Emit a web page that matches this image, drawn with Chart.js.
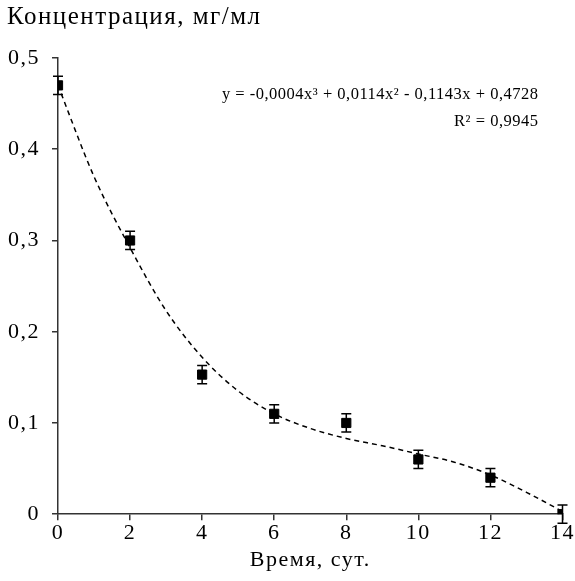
<!DOCTYPE html>
<html>
<head>
<meta charset="utf-8">
<script src="https://cdn.jsdelivr.net/npm/chart.js@4.4.1/dist/chart.umd.min.js"></script>
<style>
  body { margin: 0; background: #fff; }
</style>
</head>
<body>
<canvas id="chart" width="575" height="581"></canvas>
<script>
// измеренные точки
const days = [0, 2, 4, 6, 8, 10, 12, 14];
const concentration = [0.47, 0.30, 0.153, 0.11, 0.10, 0.06, 0.04, 0.0];
const errors = [0.01, 0.01, 0.01, 0.01, 0.01, 0.01, 0.01, 0.01];

// линия тренда
const trendDays = [0, 1, 2, 3, 4, 5, 6, 7, 8, 9, 10, 11, 12, 13, 14];
const trendValues = [0.47, 0.37, 0.292, 0.223, 0.172, 0.135, 0.11, 0.094, 0.083, 0.075, 0.066, 0.057, 0.043, 0.024, 0.003];

const xTicks = [0, 2, 4, 6, 8, 10, 12, 14];
const yTicks = [0, 0.1, 0.2, 0.3, 0.4, 0.5];
const equation = 'y = -0,0004x³ + 0,0114x² - 0,1143x + 0,4728';
const rSquared = 'R² = 0,9945';

const serif = "'Liberation Serif', 'Times New Roman', serif";
const axisColor = '#333';

const fmt = v => v === 0 ? '0' : v.toFixed(1).replace('.', ',');

// шрифт на картинке шире, чем Liberation Serif - добавим разрядку
const spacing = {
  id: 'spacing',
  afterInit(chart) { chart.ctx.letterSpacing = '1.5px'; },
  beforeUpdate(chart) { chart.ctx.letterSpacing = '1.5px'; }
};

// усы погрешностей
const errorBars = {
  id: 'errorBars',
  afterDatasetsDraw(chart) {
    const x = chart.scales.x, y = chart.scales.y, c = chart.ctx;
    c.save();
    c.strokeStyle = '#000';
    c.lineWidth = 1.5;
    days.forEach((d, i) => {
      const px = x.getPixelForValue(d);
      const top = y.getPixelForValue(concentration[i] + errors[i]);
      const bot = y.getPixelForValue(concentration[i] - errors[i]);
      c.beginPath();
      c.moveTo(px, top); c.lineTo(px, bot);
      c.moveTo(px - 5, top); c.lineTo(px + 5, top);
      c.moveTo(px - 5, bot); c.lineTo(px + 5, bot);
      c.stroke();
    });
    c.restore();
  }
};

// уравнение тренда
const trendLabel = {
  id: 'trendLabel',
  afterDraw(chart) {
    const c = chart.ctx, a = chart.chartArea;
    c.save();
    c.letterSpacing = '0.5px';
    c.fillStyle = '#000';
    c.font = '16.5px ' + serif;
    c.textAlign = 'right';
    c.textBaseline = 'middle';
    c.fillText(equation, a.right - 24, 95);
    c.fillText(rSquared, a.right - 24, 122);
    c.restore();
  }
};

new Chart(document.getElementById('chart'), {
  type: 'scatter',
  data: {
    datasets: [{
      label: 'Концентрация',
      data: days.map((d, i) => ({ x: d, y: concentration[i] })),
      backgroundColor: '#000',
      borderColor: '#000',
      pointStyle: 'rect',
      pointRadius: 6.5,
      order: 0
    }, {
      label: 'Тренд',
      type: 'line',
      data: trendDays.map((d, i) => ({ x: d, y: trendValues[i] })),
      borderColor: '#000',
      borderWidth: 1.5,
      borderDash: [5, 4],
      pointRadius: 0,
      cubicInterpolationMode: 'monotone',
      fill: false,
      order: 1
    }]
  },
  options: {
    responsive: false,
    animation: false,
    layout: { padding: { left: 7, right: 4, top: 2, bottom: 8 } },
    plugins: {
      legend: { display: false },
      tooltip: { enabled: false },
      title: {
        display: true,
        text: 'Концентрация, мг/мл',
        align: 'start',
        color: '#000',
        font: { family: serif, size: 25, weight: 'normal' },
        padding: { top: 0, bottom: 26 }
      }
    },
    scales: {
      x: {
        type: 'linear',
        min: 0,
        max: 14,
        afterBuildTicks: s => { s.ticks = xTicks.map(v => ({ value: v })); },
        border: { color: axisColor, width: 1.5 },
        grid: { drawOnChartArea: false, color: axisColor, tickLength: 6, lineWidth: 1.5 },
        ticks: { color: '#000', font: { family: serif, size: 22 }, padding: 0, maxRotation: 0 },
        title: {
          display: true,
          text: 'Время, сут.',
          color: '#000',
          font: { family: serif, size: 22 },
          padding: { top: 0, bottom: 0 }
        }
      },
      y: {
        min: 0,
        max: 0.5,
        afterBuildTicks: s => { s.ticks = yTicks.map(v => ({ value: v })); },
        afterFit: s => { s.width = 51; },
        border: { color: axisColor, width: 1.5 },
        grid: { drawOnChartArea: false, color: axisColor, tickLength: 6, lineWidth: 1.5 },
        ticks: { color: '#000', font: { family: serif, size: 22 }, padding: 12, callback: v => fmt(v) }
      }
    }
  },
  plugins: [spacing, errorBars, trendLabel]
});
</script>
</body>
</html>
